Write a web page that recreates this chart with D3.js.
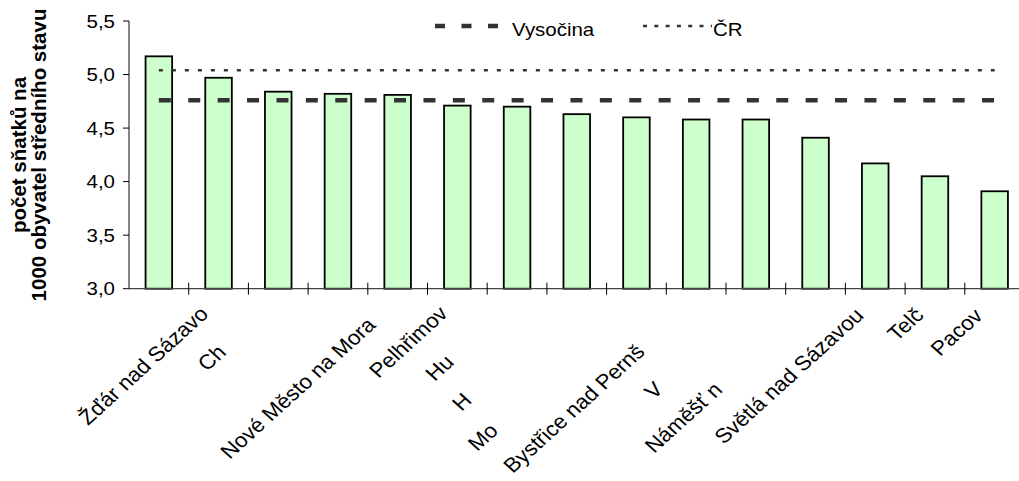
<!DOCTYPE html>
<html><head><meta charset="utf-8">
<script src="https://cdn.jsdelivr.net/npm/d3@7"></script>
<style>
html,body{margin:0;padding:0;background:#fff;overflow:hidden}
text{font-family:"Liberation Sans",Arial,sans-serif;fill:#000}
</style></head>
<body><svg id="c" width="1019" height="481"></svg>
<script>
// ---- data ----
const categories = ["Jihlava","Žďár nad Sázavou","Chotěboř","Třebíč","Nové Město na Moravě","Pelhřimov","Humpolec","Havlíčkův Brod","Moravské Budějovice","Bystřice nad Pernštejnem","Velké Meziříčí","Náměšť nad Oslavou","Světlá nad Sázavou","Telč","Pacov"];
const tickLabels = ["","Žďár nad Sázavo","Ch","","Nové Město na Mora","Pelhřimov","Hu","H","Mo","Bystřice nad Pernš","V","Náměšť n","Světlá nad Sázavou","Telč","Pacov"];
const values = [5.17,4.97,4.84,4.82,4.81,4.71,4.70,4.63,4.60,4.58,4.58,4.41,4.17,4.05,3.91];
const vysocina = 4.76;
const cr = 5.04;
const yTicks = [3.0,3.5,4.0,4.5,5.0,5.5];
const seriesNames = ["Vysočina","ČR"];
const yTitle = ["počet sňatků na","1000 obyvatel středního stavu"];
// layout: baseline y where each (rotated) tick label begins
const labelStartY = [0,426,372,0,460,379,382,412,452,474,400,454,445,342,357];

(function(){
// ---- layout ----
const SX = 1.1, FS = 18.6, LFS = 20.4;
const pLeft = 129, pTop = 21, pBottom = 288.7, band = 59.7;
const svg = d3.select("#c");
const x = d3.scaleBand().domain(categories).range([pLeft, pLeft + band*categories.length]).padding(0);
const y = d3.scaleLinear().domain([3, 5.5]).range([pBottom, pTop]);
const bw = x.bandwidth()*0.445;
const cx = c => x(c) + x.bandwidth()/2;

// bars
svg.append("g").selectAll("rect").data(categories).join("rect")
  .attr("x", (c)=>cx(c)-bw/2)
  .attr("y", (c,i)=>y(values[i]))
  .attr("width", bw)
  .attr("height", (c,i)=>y(3)-y(values[i]))
  .attr("fill","#ccffcc").attr("stroke","#000").attr("stroke-width",1.8);

// reference lines
const first = categories[0], last = categories[categories.length-1];
const line = d3.line().x(d=>cx(d[0])).y(d=>y(d[1]));
svg.append("path").attr("d", line([[first,cr],[last,cr]]))
  .attr("stroke","#333").attr("stroke-width",2.6).attr("stroke-dasharray","4,9").attr("fill","none");
svg.append("path").attr("d", line([[first,vysocina],[last,vysocina]]))
  .attr("stroke","#333").attr("stroke-width",4.3).attr("stroke-dasharray","12,17.4").attr("fill","none");

// y axis
const ya = svg.append("g");
ya.append("line").attr("x1",pLeft).attr("x2",pLeft).attr("y1",y(5.5)).attr("y2",y(3)).attr("stroke","#333").attr("stroke-width",1.2);
yTicks.forEach(t=>{
  ya.append("line").attr("x1",pLeft-6).attr("x2",pLeft).attr("y1",y(t)).attr("y2",y(t)).attr("stroke","#000");
  ya.append("text").attr("transform",`translate(115,${y(t)+6.6}) scale(${SX},1)`)
    .attr("text-anchor","end").attr("font-size",FS).text(d3.format(".1f")(t).replace(".",","));
});

// x axis
const xa = svg.append("g");
xa.append("line").attr("x1",pLeft).attr("x2",pLeft+band*categories.length).attr("y1",pBottom).attr("y2",pBottom).attr("stroke","#444").attr("stroke-width",1.2);
categories.slice(1).forEach(c=>{
  xa.append("line").attr("x1",x(c)).attr("x2",x(c)).attr("y1",pBottom-6).attr("y2",pBottom+6).attr("stroke","#000");
});
categories.forEach((c,i)=>{
  if(!tickLabels[i]) return;
  const ys = labelStartY[i];
  const xs = cx(c) + 338 - SX*ys;
  xa.append("text").attr("transform",`translate(${xs},${ys}) scale(${SX},1) rotate(-45)`)
    .attr("font-size",LFS).text(tickLabels[i]);
});

// y title
const tt = svg.append("text").attr("transform","translate(0,155) rotate(-90)")
  .attr("text-anchor","middle").attr("font-weight","bold").attr("font-size",20.5);
tt.append("tspan").attr("x",0).attr("y",26).text(yTitle[0]);
tt.append("tspan").attr("x",0).attr("y",46).text(yTitle[1]);

// legend
const lg = svg.append("g");
lg.append("line").attr("x1",435).attr("x2",498).attr("y1",26).attr("y2",26)
  .attr("stroke","#333").attr("stroke-width",4.3).attr("stroke-dasharray","10,16.5");
lg.append("text").attr("transform",`translate(512,36) scale(${SX},1)`).attr("font-size",FS).text(seriesNames[0]);
lg.append("line").attr("x1",643).attr("x2",712).attr("y1",26).attr("y2",26)
  .attr("stroke","#333").attr("stroke-width",2.6).attr("stroke-dasharray","4,7.3");
lg.append("text").attr("transform",`translate(713,36) scale(${SX},1)`).attr("font-size",FS).text(seriesNames[1]);
})();
</script></body></html>
